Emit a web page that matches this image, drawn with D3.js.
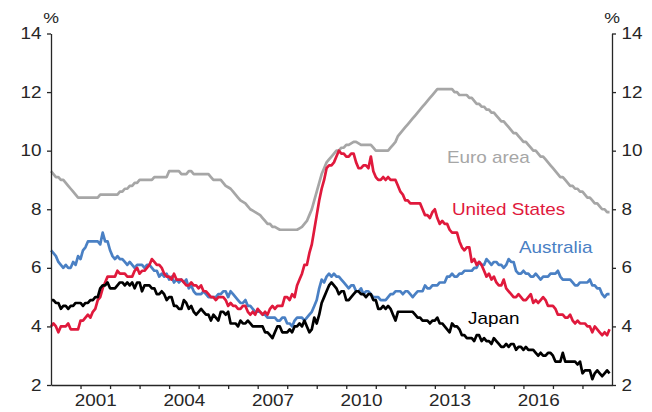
<!DOCTYPE html>
<html lang="en">
<head>
<meta charset="UTF-8">
<title>Unemployment rates</title>
<script src="https://d3js.org/d3.v7.min.js"></script>
<style>
body { margin: 0; background: #fff; }
svg text { font-family: "Liberation Sans", Arial, sans-serif; fill: #262626; }
.axis path, .axis line { stroke: #262626; stroke-width: 1.3px; }
.series { fill: none; stroke-width: 2.7px; stroke-linejoin: round; }
</style>
</head>
<body>
<svg width="652" height="412"></svg>
<script>
// monthly data, Jan 2000 - Dec 2018, one row per year
const startYear = 2000;

const euroArea = [
  9.3,9.2,9.1,9.1,9.0,9.0,8.9,8.8,8.7,8.6,8.5,8.4,
  8.4,8.4,8.4,8.4,8.4,8.4,8.4,8.4,8.5,8.5,8.5,8.5,
  8.5,8.5,8.5,8.5,8.6,8.6,8.7,8.7,8.8,8.8,8.9,8.9,
  9.0,9.0,9.0,9.0,9.0,9.0,9.1,9.1,9.1,9.1,9.1,9.1,
  9.3,9.3,9.3,9.3,9.3,9.2,9.2,9.2,9.3,9.3,9.2,9.2,
  9.2,9.2,9.2,9.2,9.2,9.1,9.0,9.0,9.0,9.0,8.9,8.8,
  8.75,8.7,8.6,8.5,8.4,8.3,8.25,8.2,8.1,8.0,7.95,7.9,
  7.85,7.8,7.7,7.6,7.5,7.5,7.4,7.4,7.35,7.3,7.3,7.3,
  7.3,7.3,7.3,7.3,7.3,7.35,7.4,7.5,7.6,7.8,8.0,8.3,
  8.6,8.9,9.2,9.4,9.6,9.7,9.8,9.9,10.0,10.0,10.1,10.1,
  10.2,10.2,10.25,10.3,10.3,10.25,10.2,10.2,10.2,10.2,10.2,10.1,
  10.0,10.0,10.0,10.0,10.0,10.0,10.1,10.2,10.3,10.5,10.6,10.7,
  10.8,10.9,11.0,11.1,11.2,11.3,11.4,11.5,11.6,11.7,11.8,11.9,
  12.0,12.1,12.1,12.1,12.1,12.1,12.1,12.1,12.0,12.0,11.9,11.9,
  11.9,11.9,11.8,11.8,11.7,11.6,11.6,11.5,11.5,11.4,11.4,11.3,
  11.3,11.2,11.1,11.0,11.0,10.9,10.8,10.7,10.6,10.6,10.5,10.4,
  10.3,10.3,10.2,10.1,10.0,10.0,9.9,9.8,9.8,9.7,9.6,9.5,
  9.4,9.3,9.2,9.1,9.1,9.0,8.9,8.8,8.8,8.7,8.7,8.6,
  8.6,8.5,8.4,8.4,8.3,8.2,8.2,8.1,8.0,8.0,7.9,7.9
];

const unitedStates = [
  4.0,4.1,4.0,3.8,4.0,4.0,4.0,4.1,3.9,3.9,3.9,3.9,
  4.2,4.2,4.3,4.4,4.3,4.5,4.6,4.9,5.0,5.3,5.5,5.7,
  5.7,5.7,5.7,5.9,5.8,5.8,5.8,5.7,5.7,5.7,5.9,6.0,
  5.8,5.9,5.9,6.0,6.1,6.3,6.2,6.1,6.1,6.0,5.8,5.7,
  5.7,5.6,5.8,5.6,5.6,5.6,5.5,5.4,5.4,5.5,5.4,5.4,
  5.3,5.4,5.2,5.2,5.1,5.0,5.0,4.9,5.0,5.0,5.0,4.9,
  4.7,4.8,4.7,4.7,4.6,4.6,4.7,4.7,4.5,4.4,4.5,4.4,
  4.6,4.5,4.4,4.5,4.4,4.6,4.7,4.6,4.7,4.7,4.7,5.0,
  5.0,4.9,5.1,5.0,5.4,5.6,5.8,6.1,6.1,6.5,6.8,7.3,
  7.8,8.3,8.7,9.0,9.4,9.5,9.5,9.6,9.8,10.0,9.9,9.9,
  9.8,9.8,9.9,9.9,9.6,9.4,9.4,9.5,9.5,9.4,9.8,9.3,
  9.1,9.0,9.0,9.1,9.0,9.1,9.0,9.0,9.0,8.8,8.6,8.5,
  8.3,8.3,8.2,8.2,8.2,8.2,8.2,8.0,7.8,7.8,7.7,7.9,
  8.0,7.7,7.5,7.6,7.5,7.5,7.3,7.2,7.2,7.2,6.9,6.7,
  6.6,6.7,6.7,6.2,6.3,6.1,6.2,6.1,5.9,5.7,5.8,5.6,
  5.7,5.5,5.4,5.4,5.6,5.3,5.2,5.1,5.0,5.0,5.1,5.0,
  4.9,4.9,5.0,5.1,4.8,4.9,4.8,4.9,5.0,4.9,4.7,4.7,
  4.7,4.6,4.4,4.4,4.4,4.3,4.3,4.4,4.2,4.1,4.2,4.1,
  4.1,4.1,4.0,4.0,3.8,4.0,3.9,3.8,3.7,3.8,3.7,3.9
];

const australia = [
  6.6,6.5,6.4,6.2,6.1,6.0,6.1,6.0,6.0,6.2,6.1,6.4,
  6.3,6.6,6.7,6.9,6.9,6.9,6.9,6.9,6.8,7.2,6.9,6.9,
  6.6,6.4,6.3,6.4,6.3,6.3,6.2,6.1,6.2,6.1,6.0,6.1,
  6.1,6.1,6.0,6.1,6.1,6.0,5.9,5.9,5.7,5.8,5.7,5.8,
  5.6,5.7,5.5,5.6,5.5,5.6,5.5,5.6,5.3,5.4,5.2,5.1,
  5.1,5.1,5.2,5.1,5.0,5.0,5.0,5.0,5.1,5.1,5.2,5.2,
  5.0,5.2,5.1,5.0,4.9,4.8,4.8,4.9,4.7,4.7,4.6,4.5,
  4.5,4.5,4.4,4.4,4.3,4.3,4.3,4.3,4.2,4.2,4.3,4.3,
  4.1,4.1,4.0,4.2,4.3,4.3,4.3,4.2,4.3,4.4,4.5,4.7,
  4.9,5.3,5.6,5.5,5.7,5.8,5.7,5.8,5.7,5.7,5.6,5.5,
  5.4,5.3,5.4,5.4,5.2,5.2,5.3,5.1,5.2,5.2,5.1,5.0,
  5.0,5.0,4.9,4.9,4.9,5.0,5.1,5.1,5.2,5.2,5.2,5.1,
  5.2,5.2,5.1,5.0,5.1,5.2,5.2,5.2,5.4,5.3,5.3,5.4,
  5.4,5.4,5.5,5.5,5.5,5.7,5.7,5.8,5.7,5.7,5.8,5.8,
  5.9,5.9,5.9,5.9,6.0,6.0,6.2,6.1,6.1,6.3,6.2,6.1,
  6.2,6.2,6.1,6.1,6.0,6.1,6.3,6.2,6.2,5.9,5.8,5.8,
  5.9,5.8,5.8,5.7,5.7,5.8,5.7,5.6,5.7,5.7,5.7,5.8,
  5.8,5.8,5.9,5.7,5.6,5.6,5.6,5.6,5.5,5.4,5.4,5.5,
  5.5,5.5,5.5,5.6,5.4,5.4,5.3,5.3,5.1,5.0,5.1,5.1
];

const japan = [
  4.9,4.9,4.8,4.8,4.6,4.7,4.7,4.6,4.7,4.7,4.8,4.8,
  4.8,4.7,4.8,4.8,4.9,4.9,5.0,5.0,5.3,5.4,5.4,5.5,
  5.3,5.3,5.3,5.4,5.5,5.5,5.4,5.5,5.4,5.5,5.3,5.5,
  5.5,5.2,5.4,5.4,5.4,5.3,5.3,5.1,5.1,5.2,5.1,4.9,
  5.0,5.0,4.7,4.7,4.6,4.6,4.9,4.8,4.6,4.7,4.5,4.4,
  4.5,4.6,4.5,4.4,4.4,4.2,4.4,4.3,4.2,4.5,4.5,4.4,
  4.5,4.1,4.1,4.1,4.0,4.2,4.1,4.1,4.2,4.1,4.0,4.0,
  4.0,4.0,4.0,3.8,3.8,3.7,3.6,3.8,4.0,4.0,3.8,3.8,
  3.8,3.9,3.8,4.0,4.0,4.1,4.0,4.2,4.0,3.8,3.9,4.3,
  4.1,4.4,4.8,5.0,5.2,5.4,5.5,5.4,5.3,5.1,5.2,5.2,
  4.9,4.9,5.0,5.1,5.2,5.2,5.1,5.1,5.0,5.1,5.1,4.9,
  4.9,4.6,4.6,4.7,4.6,4.7,4.6,4.4,4.2,4.5,4.5,4.5,
  4.5,4.5,4.5,4.5,4.4,4.3,4.3,4.2,4.2,4.2,4.1,4.2,
  4.2,4.3,4.1,4.1,4.0,3.9,3.8,4.1,4.0,4.0,3.9,3.7,
  3.7,3.6,3.6,3.6,3.5,3.7,3.7,3.5,3.6,3.5,3.5,3.4,
  3.6,3.5,3.4,3.3,3.3,3.4,3.3,3.4,3.4,3.2,3.3,3.3,
  3.2,3.3,3.2,3.2,3.2,3.1,3.0,3.1,3.0,3.0,3.1,3.1,
  3.0,2.8,2.8,2.8,3.1,2.8,2.8,2.8,2.8,2.8,2.7,2.8,
  2.4,2.5,2.5,2.5,2.2,2.4,2.5,2.4,2.3,2.4,2.5,2.4
];

const seriesNames = ["Euro area", "Australia", "United States", "Japan"];
const seriesValues = [euroArea, australia, unitedStates, japan];
const seriesColors = ["#a6a6a6", "#4a80c4", "#e0193c", "#000000"];

const yTicks = [2, 4, 6, 8, 10, 12, 14];
const yearTicks = d3.range(2001, 2019);
const yearLabels = [2001, 2004, 2007, 2010, 2013, 2016];

const stretch = "scale(1.18,1)";

const svg = d3.select("svg");
const plotLeft = 51, plotRight = 612, plotTop = 33.5, plotBottom = 385;

const x = d3.scaleLinear().domain([2000, 2019]).range([plotLeft, plotRight]);
const y = d3.scaleLinear().domain([2, 14]).range([plotBottom, plotTop]);

// lines
const line = d3.line()
    .x((d, i) => x(startYear + i / 12))
    .y(d => y(d));

seriesValues.forEach((vals, k) => {
    svg.append("path")
        .attr("class", "series")
        .attr("stroke", seriesColors[k])
        .attr("d", line(vals));
});

// axes
const fontSize = "16px";

const yl = svg.append("g")
    .attr("class", "axis")
    .attr("transform", `translate(${plotLeft},0)`)
    .call(d3.axisLeft(y).tickValues(yTicks).tickSize(4).tickSizeOuter(0).tickPadding(4));
yl.selectAll("text").attr("transform", stretch).style("font-size", fontSize).style("fill", "#262626");

const yr = svg.append("g")
    .attr("class", "axis")
    .attr("transform", `translate(${plotRight},0)`)
    .call(d3.axisRight(y).tickValues(yTicks).tickSize(4).tickSizeOuter(0).tickPadding(4));
yr.selectAll("text").attr("transform", stretch).style("font-size", fontSize).style("fill", "#262626");

svg.append("g")
    .attr("class", "axis")
    .attr("transform", `translate(0,${plotBottom})`)
    .call(d3.axisBottom(x).tickValues(yearTicks).tickSize(4).tickSizeOuter(0).tickFormat(""));

const xl = svg.append("g")
    .attr("class", "axis labels")
    .attr("transform", `translate(0,${plotBottom})`)
    .call(d3.axisBottom(x).tickValues(yearLabels.map(v => v + 0.5)).tickSize(0).tickPadding(10)
        .tickFormat(d => Math.floor(d)));
xl.select(".domain").remove();
xl.selectAll("text").attr("transform", stretch).style("font-size", fontSize).style("fill", "#262626");

// % units
[plotLeft, plotRight].forEach(px => {
    svg.append("text")
        .attr("transform", `translate(${px},22.5) ${stretch}`)
        .attr("text-anchor", "middle")
        .style("font-size", "15px")
        .text("%");
});

// series labels
const labelPos = [
    {name: "Euro area", x: 447, y: 163},
    {name: "Australia", x: 519, y: 253},
    {name: "United States", x: 452, y: 215},
    {name: "Japan", x: 468, y: 324}
];
labelPos.forEach(p => {
    const k = seriesNames.indexOf(p.name);
    svg.append("text")
        .attr("transform", `translate(${p.x},${p.y}) ${stretch}`)
        .style("font-size", fontSize)
        .style("fill", seriesColors[k])
        .text(p.name);
});
</script>
</body>
</html>
